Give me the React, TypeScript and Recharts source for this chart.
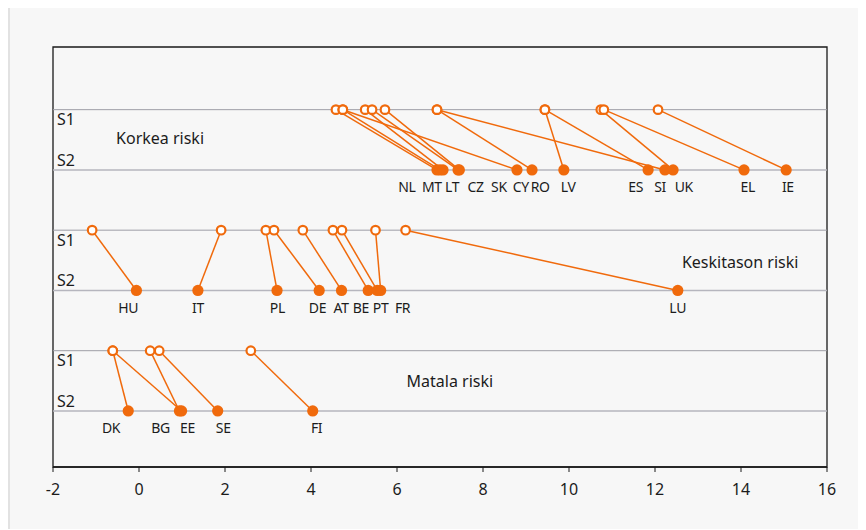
import React from 'react';
import { ScatterChart, Scatter, XAxis, YAxis, ReferenceLine, ReferenceArea } from 'recharts';

const ORANGE = '#f06a0c';
const TEXT = '#1c1c1c';
const FONT = '"Noto Sans", "Open Sans", sans-serif';

// Korkea riski
const highCountries = ['NL', 'MT', 'LT', 'CZ', 'SK', 'CY', 'RO', 'LV', 'ES', 'SI', 'UK', 'EL', 'IE'];
const highS1 = [4.58, 4.74, 5.26, 5.42, 5.72, 4.74, 6.93, 9.44, 9.44, 6.93, 10.74, 10.81, 12.07];
const highS2 = [6.93, 7.0, 7.07, 7.42, 7.45, 8.79, 9.14, 9.88, 11.84, 12.23, 12.42, 14.07, 15.05];
const highLabelX = [6.23, 6.81, 7.28, 7.83, 8.37, 8.88, 9.33, 9.98, 11.55, 12.12, 12.67, 14.16, 15.09];

// Keskitason riski
const midCountries = ['HU', 'IT', 'PL', 'DE', 'AT', 'BE', 'PT', 'FR', 'LU'];
const midS1 = [-1.09, 1.91, 2.95, 3.14, 3.81, 4.51, 4.72, 5.5, 6.2];
const midS2 = [-0.06, 1.37, 3.21, 4.19, 4.71, 5.33, 5.54, 5.62, 12.53];
const midLabelX = [-0.25, 1.37, 3.22, 4.15, 4.7, 5.16, 5.62, 6.13, 12.53];

// Matala riski
const lowCountries = ['DK', 'BG', 'EE', 'SE', 'FI'];
const lowS1 = [-0.61, 0.26, -0.61, 0.47, 2.6];
const lowS2 = [-0.25, 0.94, 0.99, 1.83, 4.04];
const lowLabelX = [-0.65, 0.5, 1.13, 1.96, 4.13];

const groupNames = ['Korkea riski', 'Keskitason riski', 'Matala riski'];
const xTicks = [-2, 0, 2, 4, 6, 8, 10, 12, 14, 16];

// row levels on the hidden y axis (S1 above S2 for each group)
const groups = [
  { countries: highCountries, s1: highS1, s2: highS2, labelX: highLabelX, y1: 6, y2: 5, nameX: 0.49, nameY: 5.53 },
  { countries: midCountries, s1: midS1, s2: midS2, labelX: midLabelX, y1: 4, y2: 3, nameX: 13.98, nameY: 3.47 },
  { countries: lowCountries, s1: lowS1, s2: lowS2, labelX: lowLabelX, y1: 2, y2: 1, nameX: 7.23, nameY: 1.49 },
];

const Y_DOMAIN: [number, number] = [0.07, 7.04];

const s1Points = groups.flatMap((g) => g.s1.map((v) => ({ x: v, y: g.y1 })));
const s2Points = groups.flatMap((g) => g.s2.map((v) => ({ x: v, y: g.y2 })));
const labelPoints = groups.flatMap((g) => g.labelX.map((v, i) => ({ x: v, y: g.y2, name: g.countries[i] })));
const namePoints = groups.map((g, i) => ({ x: g.nameX, y: g.nameY, name: groupNames[i] }));
const links = groups.flatMap((g) =>
  g.countries.map((c, i) => ({
    id: c,
    points: [
      { x: g.s1[i], y: g.y1 },
      { x: g.s2[i], y: g.y2 },
    ],
  }))
);

const Empty = () => <g />;

const HollowDot = (props: any) => (
  <circle cx={props.cx} cy={props.cy} r={4.3} fill="#ffffff" stroke={ORANGE} strokeWidth={2.2} />
);

const FilledDot = (props: any) => <circle cx={props.cx} cy={props.cy} r={5.6} fill={ORANGE} />;

const CountryLabel = (props: any) => (
  <text
    x={props.cx}
    y={props.cy + 17}
    textAnchor="middle"
    dominantBaseline="central"
    fill={TEXT}
    fontSize={14}
    letterSpacing={-0.3}
    fontFamily={FONT}
  >
    {props.payload.name}
  </text>
);

const GroupLabel = (props: any) => (
  <text
    x={props.cx}
    y={props.cy}
    textAnchor="middle"
    dominantBaseline="central"
    fill={TEXT}
    fontSize={16}
    fontFamily={FONT}
  >
    {props.payload.name}
  </text>
);

const rowLabel = (value: string, position: 'insideBottomLeft' | 'insideTopLeft') => ({
  value,
  position,
  offset: 4,
  fill: TEXT,
  fontSize: 16,
  fontFamily: FONT,
});

const App: React.FC = () => {
  return (
    <div
      style={{
        width: 858,
        height: 522,
        marginTop: -3,
        background: '#f7f7f7',
        borderTop: '2px solid #e2e2e2',
        borderLeft: '2px solid #e2e2e2',
        fontFamily: FONT,
      }}
    >
      <ScatterChart width={856} height={520} margin={{ top: 40, right: 39, bottom: 30, left: 43 }}>
        <XAxis
          type="number"
          dataKey="x"
          domain={[-2, 16]}
          ticks={xTicks}
          allowDataOverflow
          interval={0}
          tickSize={5}
          tickMargin={12}
          height={30}
          axisLine={{ stroke: '#1a1a1a', strokeWidth: 1.3 }}
          tickLine={{ stroke: '#1a1a1a' }}
          tick={{ fill: TEXT, fontSize: 16, fontFamily: FONT }}
        />
        <YAxis type="number" dataKey="y" domain={Y_DOMAIN} allowDataOverflow hide />

        <ReferenceArea x1={-2} x2={16} y1={Y_DOMAIN[0]} y2={Y_DOMAIN[1]} fill="none" stroke="#1a1a1a" strokeWidth={1.3} />

        {groups.map((g) => (
          <ReferenceLine
            key={`s1-${g.y1}`}
            y={g.y1}
            stroke="#9e9ea6"
            strokeWidth={1}
            label={rowLabel('S1', 'insideTopLeft')}
          />
        ))}
        {groups.map((g) => (
          <ReferenceLine
            key={`s2-${g.y2}`}
            y={g.y2}
            stroke="#b6b6be"
            strokeWidth={1.6}
            label={rowLabel('S2', 'insideBottomLeft')}
          />
        ))}

        {links.map((l) => (
          <Scatter
            key={`link-${l.id}`}
            data={l.points}
            dataKey="y"
            line={{ stroke: ORANGE, strokeWidth: 1.5 }}
            shape={Empty}
            isAnimationActive={false}
          />
        ))}

        <Scatter data={s1Points} dataKey="y" shape={HollowDot} isAnimationActive={false} />
        <Scatter data={s2Points} dataKey="y" shape={FilledDot} isAnimationActive={false} />
        <Scatter data={labelPoints} dataKey="y" shape={CountryLabel} isAnimationActive={false} />
        <Scatter data={namePoints} dataKey="y" shape={GroupLabel} isAnimationActive={false} />
      </ScatterChart>
    </div>
  );
};

export default App;
